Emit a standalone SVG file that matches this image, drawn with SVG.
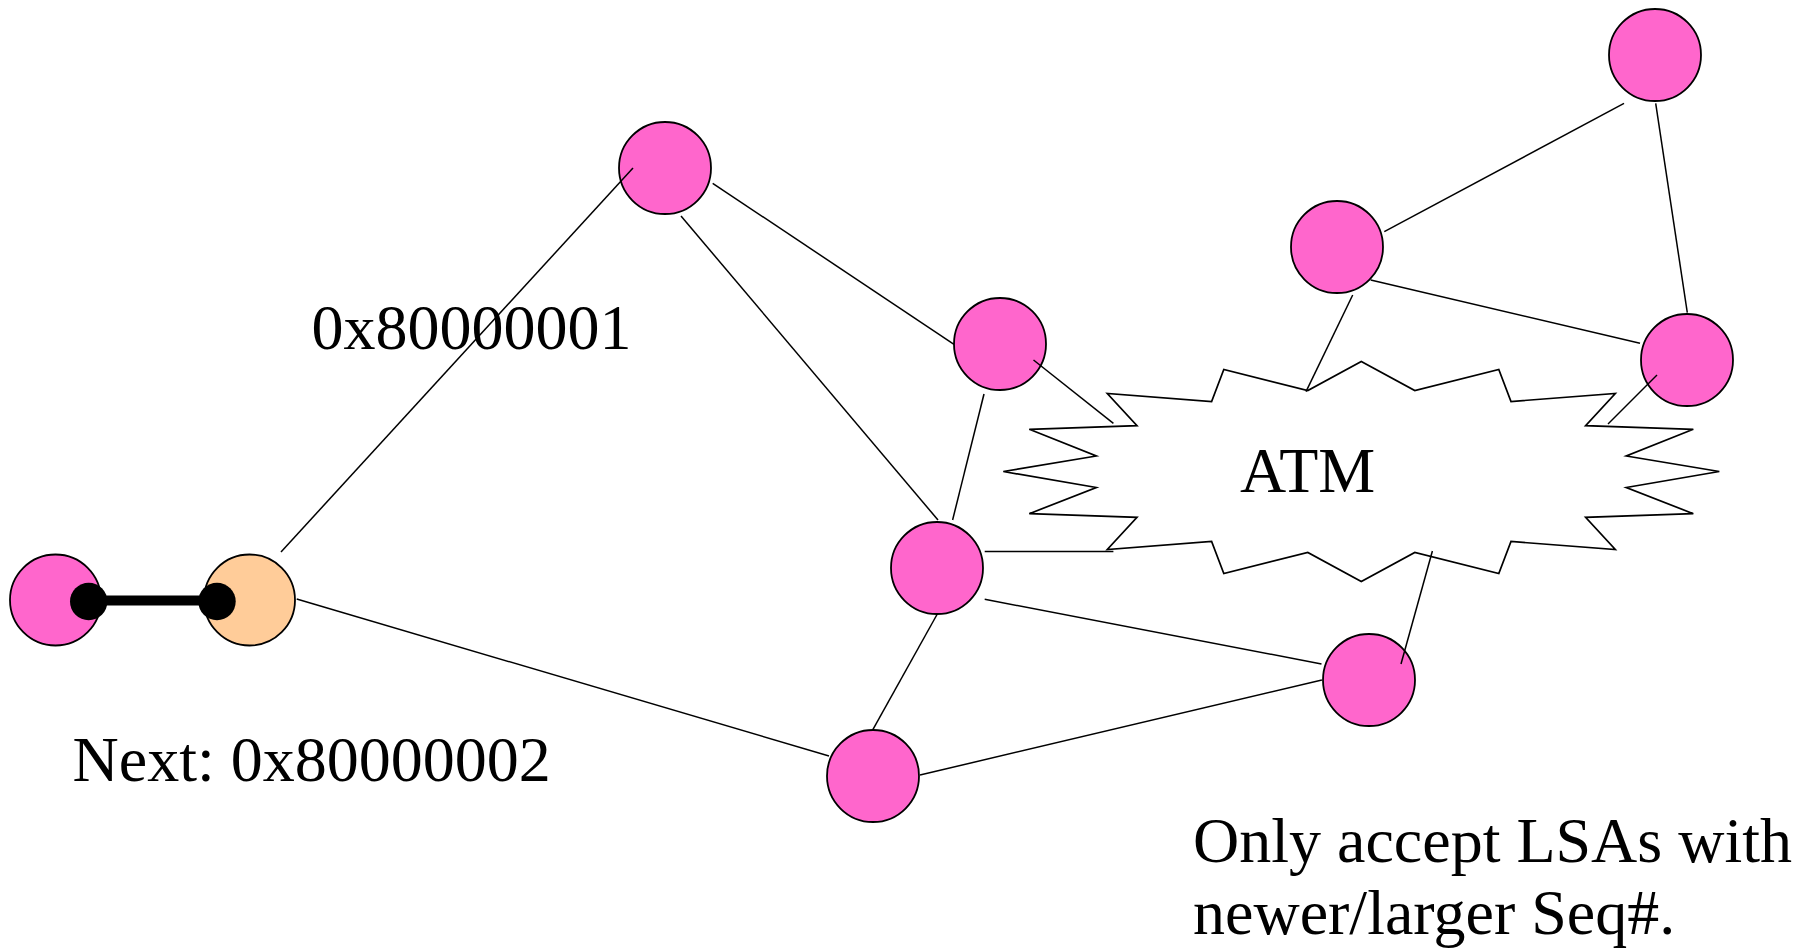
<svg xmlns="http://www.w3.org/2000/svg" width="1805" height="950" viewBox="0 0 1805 950">
  <style>
    .router { fill: #FF66CC; stroke: #000; stroke-width: 1.8; }
    .origin { fill: #FFCC99; stroke: #000; stroke-width: 1.8; }
    .link { stroke: #000; stroke-width: 1.5; fill: none; stroke-linecap: butt; }
    .cloud { fill: #FFFFFF; stroke: #000; stroke-width: 1.7; stroke-linejoin: miter; }
    .label { font-family: "Liberation Serif", "Times New Roman", serif; font-size: 64px; fill: #000; }
  </style>
  <rect width="1805" height="950" fill="#FFFFFF"/>

  <!-- ATM network cloud -->
  <g id="atm">
    <polygon class="cloud" points="1361.3,361.5 1414.8,390.5 1498.8,369.5 1511,401.5 1615.3,393.5 1585.6,425.7 1693.3,429.3 1626.3,456 1719.3,471.5 1626.3,487.5 1693.3,513.7 1585.6,517.3 1615.3,549.5 1511,541.5 1498.8,573.5 1414.8,552.5 1361.3,581.5 1307.8,552.5 1223.8,573.5 1211.6,541.5 1107.3,549.5 1137,517.3 1029.3,513.7 1096.3,487.5 1003.3,471.5 1096.3,456 1029.3,429.3 1137,425.7 1107.3,393.5 1211.6,401.5 1223.8,369.5 1307.8,390.5"/>
    <text class="label" x="1240" y="492">ATM</text>
  </g>

  <!-- routers -->
  <g id="node-a"><circle class="router" cx="55.5" cy="600" r="45.5"/></g>
  <g id="node-b"><circle class="origin" cx="249.5" cy="600" r="45.5"/></g>
  <g id="node-c"><circle class="router" cx="665" cy="168" r="46"/></g>
  <g id="node-d"><circle class="router" cx="1000" cy="344" r="46"/></g>
  <g id="node-e"><circle class="router" cx="937" cy="568" r="46"/></g>
  <g id="node-f"><circle class="router" cx="873" cy="776" r="46"/></g>
  <g id="node-g"><circle class="router" cx="1369" cy="680" r="46"/></g>
  <g id="node-h"><circle class="router" cx="1337" cy="247" r="46"/></g>
  <g id="node-i"><circle class="router" cx="1655" cy="55" r="46"/></g>
  <g id="node-j"><circle class="router" cx="1687" cy="360" r="46"/></g>

  <!-- links -->
  <g id="connectors">
    <line class="link" x1="281" y1="552" x2="633" y2="168"/>
    <line class="link" x1="296.7" y1="599" x2="829" y2="756"/>
    <line class="link" x1="681" y1="216" x2="938" y2="520"/>
    <line class="link" x1="712.7" y1="183.3" x2="954" y2="344.3"/>
    <line class="link" x1="984" y1="394" x2="952.6" y2="520"/>
    <line class="link" x1="1033.5" y1="360" x2="1113.4" y2="423.3"/>
    <line class="link" x1="984.7" y1="551.5" x2="1113.4" y2="551.5"/>
    <line class="link" x1="937.3" y1="614" x2="873" y2="729.3"/>
    <line class="link" x1="984.7" y1="599.3" x2="1321.5" y2="664"/>
    <line class="link" x1="920" y1="775" x2="1321.9" y2="680"/>
    <line class="link" x1="1401" y1="664" x2="1432.4" y2="551"/>
    <line class="link" x1="1352.7" y1="295" x2="1306" y2="391.7"/>
    <line class="link" x1="1384.3" y1="231.7" x2="1624" y2="103.3"/>
    <line class="link" x1="1370.7" y1="280" x2="1640" y2="343.3"/>
    <line class="link" x1="1655.7" y1="103.3" x2="1687.3" y2="312.7"/>
    <line class="link" x1="1657" y1="375" x2="1608" y2="424"/>
    <!-- point-to-point link between the two left routers -->
    <g id="p2p-link">
      <line x1="88.7" y1="600.5" x2="217" y2="600.5" stroke="#000" stroke-width="10"/>
      <circle cx="88.7" cy="601.5" r="18.7" fill="#000"/>
      <circle cx="217" cy="601.5" r="18.7" fill="#000"/>
    </g>
  </g>

  <!-- annotations -->
  <g id="labels">
    <text class="label" x="311.5" y="349">0x80000001</text>
    <text class="label" x="72.5" y="781">Next: 0x80000002</text>
    <text class="label" x="1193" y="862">Only accept LSAs with</text>
    <text class="label" x="1193" y="934">newer/larger Seq#.</text>
  </g>
</svg>
